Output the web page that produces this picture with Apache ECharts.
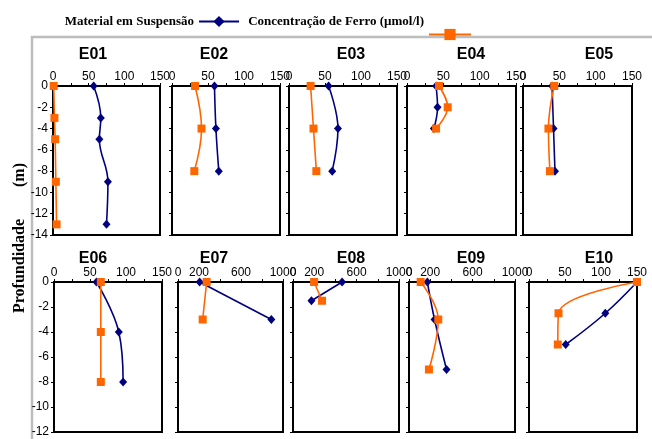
<!DOCTYPE html>
<html><head><meta charset="utf-8">
<script src="https://cdn.jsdelivr.net/npm/echarts@6/dist/echarts.min.js"></script>
<style>html,body{margin:0;padding:0;background:#fff}#c{width:652px;height:439px}</style>
</head><body><div id="c"></div>
<script>
// ---- data ----
const stations = ['E01','E02','E03','E04','E05','E06','E07','E08','E09','E10'];
const seriesMS = 'Material em Suspensão';
const seriesFe = 'Concentração de Ferro (µmol/l)';

const depthE01 = [0,-3,-5,-9,-13], msE01 = [57,67,65,77,75],   feE01 = [1,2,3,4,5];
const depthE02 = [0,-4,-8],        msE02 = [59,61,65],         feE02 = [32,41,31];
const depthE03 = [0,-4,-8],        msE03 = [55,68,60],         feE03 = [30,34,38];
const depthE04 = [0,-2,-4],        msE04 = [40,42,37],         feE04 = [44,56,40];
const depthE05 = [0,-4,-8],        msE05 = [40,42,44],         feE05 = [43,35,37];
const depthE06 = [0,-4,-8],        msE06 = [59,90,96],         feE06 = [65,65,65];
const depthE07 = [0,-3],           msE07 = [206,889],          feE07 = [273,235];
const depthE08 = [0,-1.5],         msE08 = [463,174],          feE08 = [199,274];
const depthE09 = [0,-3,-7],        msE09 = [173,241,354],      feE09 = [110,276,188];
const depthE10 = [0,-2.5,-5],      msE10 = [150,106,51],       feE10 = [150,41,40];

const depths = [depthE01,depthE02,depthE03,depthE04,depthE05,depthE06,depthE07,depthE08,depthE09,depthE10];
const msVals = [msE01,msE02,msE03,msE04,msE05,msE06,msE07,msE08,msE09,msE10];
const feVals = [feE01,feE02,feE03,feE04,feE05,feE06,feE07,feE08,feE09,feE10];

const xMaxes = [150,150,150,150,150,150,1000,1000,1000,150];
const xTickLabelsSmall = [0,50,100,150];
const xTickLabelsLarge = [0,200,600,1000];
const depthMinRow1 = -14, depthMinRow2 = -12;

// ---- layout ----
const grids = [
  [53,86,107,149],[172,86,108,149],[289,86,108,149],[407,86,109,149],[523,86,109,149],
  [54,282,108,150],[178,282,105,150],[293,282,106,150],[409,282,106,150],[529,282,108,150]
];
const titleX = [88,209,346,466,594];

const BLUE = '#000080', ORANGE = '#FF6600';
const numFont = "'Liberation Sans Narrow','Arial Narrow','Liberation Sans',Arial,sans-serif";
const serif = "'Liberation Serif','Times New Roman',serif";

const option = {
  animation: false,
  backgroundColor: '#fff',
  title: stations.map((s,i)=>({
    text: s, left: titleX[i%5], top: i<5 ? 42 : 246, textAlign: 'center',
    textStyle: {fontFamily:"'Liberation Sans',Arial,sans-serif", fontWeight:'bold', fontSize:16, color:'#000'}
  })),
  legend: [
    {data:[seriesMS], right: 412, top: 15, align:'right', itemWidth:40, itemHeight:14, itemGap:0, padding:0,
     textStyle:{fontFamily:serif, fontWeight:'bold', fontSize:13, color:'#000'}},
    {data:[seriesFe], right: 180, top: 15, align:'right', itemWidth:42, itemHeight:14, itemGap:0, padding:0,
     formatter: n => '{t|' + n + '}',
     textStyle:{fontFamily:serif, fontWeight:'bold', fontSize:13, color:'#000',
       rich:{t:{fontFamily:serif, fontWeight:'bold', fontSize:13, color:'#000', lineHeight:14, padding:[0,0,26,0]}}}}
  ],
  graphic: [
    {type:'rect', shape:{x:32,y:37,width:640,height:420}, style:{fill:'none', stroke:'#BDBDBD', lineWidth:2.5}, silent:true},
    {type:'text', x:20, y:238, rotation:Math.PI/2,
     style:{text:'Profundidade        (m)', fontFamily:serif, fontWeight:'bold', fontSize:16, fill:'#000', align:'center', verticalAlign:'middle'}}
  ],
  grid: grids.map(g=>({left:g[0], top:g[1], width:g[2], height:g[3], show:true, borderColor:'#000', borderWidth:2, backgroundColor:'transparent'})),
  xAxis: stations.map((s,i)=>{
    const big = xMaxes[i] === 1000;
    const labels = big ? xTickLabelsLarge : xTickLabelsSmall;
    return {
      type:'value', gridIndex:i, position:'top', min:0, max:xMaxes[i], interval: big ? 200 : 25,
      axisLine:{show:true, lineStyle:{color:'#000', width:2}},
      axisTick:{show:true, inside:false, length:3, lineStyle:{color:'#000', width:1}},
      splitLine:{show:false},
      axisLabel:{show:true, margin:3, color:'#000', fontFamily:numFont, fontSize:12, hideOverlap:false,
        showMinLabel:true, showMaxLabel:true,
        formatter: v => labels.includes(v) ? String(v) : ''}
    };
  }),
  yAxis: stations.map((s,i)=>({
    type:'value', gridIndex:i, min: i<5 ? depthMinRow1 : depthMinRow2, max:0, interval:2,
    axisLine:{show:true, lineStyle:{color:'#000', width:2}},
    axisTick:{show:true, inside:false, length:3, lineStyle:{color:'#000', width:1}},
    splitLine:{show:false},
    axisLabel:{show: i%5===0, margin:5, color:'#000', fontFamily:numFont, fontSize:12, showMinLabel:true, showMaxLabel:true}
  })),
  series: []
};

stations.forEach((s,i)=>{
  option.series.push({
    name: seriesMS, type:'line', xAxisIndex:i, yAxisIndex:i, smooth:0.4,
    data: depths[i].map((d,k)=>[msVals[i][k], d]),
    symbol:'diamond', symbolSize:[8,9], color:BLUE,
    lineStyle:{color:BLUE, width:1.6}, itemStyle:{color:BLUE}, z:2
  });
  option.series.push({
    name: seriesFe, type:'line', xAxisIndex:i, yAxisIndex:i, smooth:0.4,
    data: depths[i].map((d,k)=>[feVals[i][k], d]),
    symbol:'rect', symbolSize:8, color:ORANGE,
    lineStyle:{color:ORANGE, width:1.6}, itemStyle:{color:ORANGE}, z:3
  });
});

const chart = echarts.init(document.getElementById('c'), null, {renderer:'canvas'});
chart.setOption(option);
</script>
</body></html>
